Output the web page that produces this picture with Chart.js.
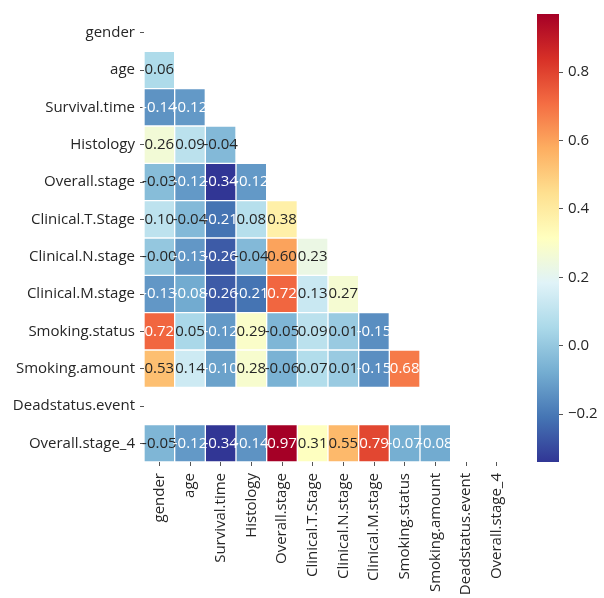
<!DOCTYPE html>
<html><head><meta charset="utf-8">
<script src="https://cdn.jsdelivr.net/npm/chart.js@4"></script>
<style>
html,body{margin:0;padding:0;background:#fff;overflow:hidden}
#wrap{position:relative;width:604px;height:598px}
canvas{position:absolute;left:0;top:0}
</style></head><body>
<div id="wrap"><canvas id="heat" width="604" height="598"></canvas><canvas id="cbar" width="604" height="598"></canvas></div>
<script>
const variables = ['gender','age','Survival.time','Histology','Overall.stage','Clinical.T.Stage','Clinical.N.stage','Clinical.M.stage','Smoking.status','Smoking.amount','Deadstatus.event','Overall.stage_4'];
const rowGender = [];
const rowAge = [0.06];
const rowSurvival = [-0.14, -0.12];
const rowHistology = [0.26, 0.09, -0.04];
const rowOverall = [-0.03, -0.12, -0.34, -0.12];
const rowTStage = [0.10, -0.04, -0.21, 0.08, 0.38];
const rowNStage = [-0.001, -0.13, -0.26, -0.04, 0.60, 0.23];
const rowMStage = [-0.13, -0.08, -0.26, -0.21, 0.72, 0.13, 0.27];
const rowSmokStatus = [0.72, 0.05, -0.12, 0.29, -0.05, 0.09, 0.01, -0.15];
const rowSmokAmount = [0.53, 0.14, -0.10, 0.28, -0.06, 0.07, 0.01, -0.15, 0.68];
const rowDead = [];
const rowStage4 = [-0.05, -0.12, -0.34, -0.14, 0.97, 0.31, 0.55, 0.79, -0.07, -0.08, null];
const cbarTicks = [-0.2, 0.0, 0.2, 0.4, 0.6, 0.8];
const cmapStops = ['#313695','#4575b4','#74add1','#abd9e9','#e0f3f8','#ffffbf','#fee090','#fdae61','#f46d43','#d73027','#a50026'];

const rows = [rowGender,rowAge,rowSurvival,rowHistology,rowOverall,rowTStage,rowNStage,rowMStage,rowSmokStatus,rowSmokAmount,rowDead,rowStage4];
const cells = [];
rows.forEach((r,i)=>r.forEach((v,j)=>{ if(v!==null) cells.push({x:variables[j], y:[i-0.5,i+0.5], v:v}); }));
const allVals = cells.map(c=>c.v);
const vmin = Math.min(...allVals), vmax = Math.max(...allVals);

function hex2rgb(h){return [parseInt(h.slice(1,3),16),parseInt(h.slice(3,5),16),parseInt(h.slice(5,7),16)];}
const stopsRGB = cmapStops.map(hex2rgb);
function cmap(t){
  t = Math.max(0, Math.min(1, t));
  t = Math.min(255, Math.floor(t*256))/255;
  const s = t*10; let k = Math.floor(s); if(k>=10) k=9; const f = s-k;
  const a = stopsRGB[k], b = stopsRGB[k+1];
  return [0,1,2].map(i=>a[i]+(b[i]-a[i])*f);
}
function rgbStr(c){return 'rgb('+c.map(x=>Math.round(x)).join(',')+')';}
function lum(c){
  const l = c.map(x=>{x/=255; return x<=0.03928? x/12.92 : Math.pow((x+0.055)/1.055,2.4);});
  return 0.2126*l[0]+0.7152*l[1]+0.0722*l[2];
}
const norm = v => (v-vmin)/(vmax-vmin);
const FONT = '"Open Sans", sans-serif';
const TXT = '#262626';

const annot = {
  id:'annot',
  afterDatasetsDraw(chart){
    const ctx = chart.ctx; const meta = chart.getDatasetMeta(0);
    ctx.save();
    ctx.font = '15px ' + FONT; ctx.textAlign='center'; ctx.textBaseline='middle';
    meta.data.forEach((el,k)=>{
      const c = cells[k]; const col = cmap(norm(c.v));
      const p = el.getProps(['x','y','base'], true);
      ctx.fillStyle = lum(col) > 0.408 ? TXT : '#ffffff';
      ctx.fillText(c.v.toFixed(2), p.x, (p.y+p.base)/2);
    });
    ctx.restore();
  }
};

new Chart(document.getElementById('heat'), {
  type:'bar',
  data:{ labels: variables, datasets:[{ data: cells, backgroundColor: cells.map(c=>rgbStr(cmap(norm(c.v)))), borderColor:'#ffffff', borderWidth:1, barPercentage:1, categoryPercentage:1, borderSkipped:false }]},
  options:{
    responsive:false, animation:false,
    layout:{padding:{left:0, top:12, right:92, bottom:0}},
    plugins:{legend:{display:false}, tooltip:{enabled:false}},
    scales:{
      x:{ type:'category', position:'bottom',
        grid:{drawOnChartArea:false, drawTicks:true, tickLength:4, color:'#555', offset:false},
        border:{display:false},
        ticks:{autoSkip:false, minRotation:90, maxRotation:90, padding:7, color:TXT, font:{family:FONT, size:15}},
        afterFit(a){a.height = 598-462;}
      },
      y:{ type:'linear', min:-0.5, max:11.5, reverse:true,
        afterBuildTicks(a){a.ticks = variables.map((_,i)=>({value:i}));},
        grid:{drawOnChartArea:false, drawTicks:true, tickLength:4, color:'#555'},
        border:{display:false},
        ticks:{autoSkip:false, padding:5, color:TXT, font:{family:FONT, size:15}, callback:(v)=>variables[v]},
        afterFit(a){a.width = 144;}
      }
    }
  },
  plugins:[annot]
});

new Chart(document.getElementById('cbar'), {
  type:'bar',
  data:{ labels:['cb'], datasets:[{ data:[[vmin, vmax]], borderWidth:0, barPercentage:1, categoryPercentage:1,
    backgroundColor:(c)=>{
      const ch = c.chart; if(!ch.chartArea) return '#888';
      const ys = ch.scales.y; const y0 = ys.getPixelForValue(vmin), y1 = ys.getPixelForValue(vmax);
      const g = ch.ctx.createLinearGradient(0,y0,0,y1);
      cmapStops.forEach((s,k)=>g.addColorStop(k/10, s));
      return g;
    }}]},
  options:{
    responsive:false, animation:false,
    layout:{padding:{left:537, top:11, right:0, bottom:136}},
    plugins:{legend:{display:false}, tooltip:{enabled:false}},
    scales:{
      x:{display:false},
      y:{ position:'right', min:vmin, max:vmax,
        afterBuildTicks(a){a.ticks = cbarTicks.map(v=>({value:v}));},
        grid:{drawOnChartArea:false, drawTicks:true, tickLength:4, color:'#555'},
        border:{display:false},
        ticks:{padding:5, color:TXT, font:{family:FONT, size:15}, callback:(v)=> (v<-1e-9 ? '\u2212'+Math.abs(v).toFixed(1) : Math.abs(v).toFixed(1))},
        afterFit(a){a.width = 604-559;}
      }
    }
  }
});
</script>
</body></html>
